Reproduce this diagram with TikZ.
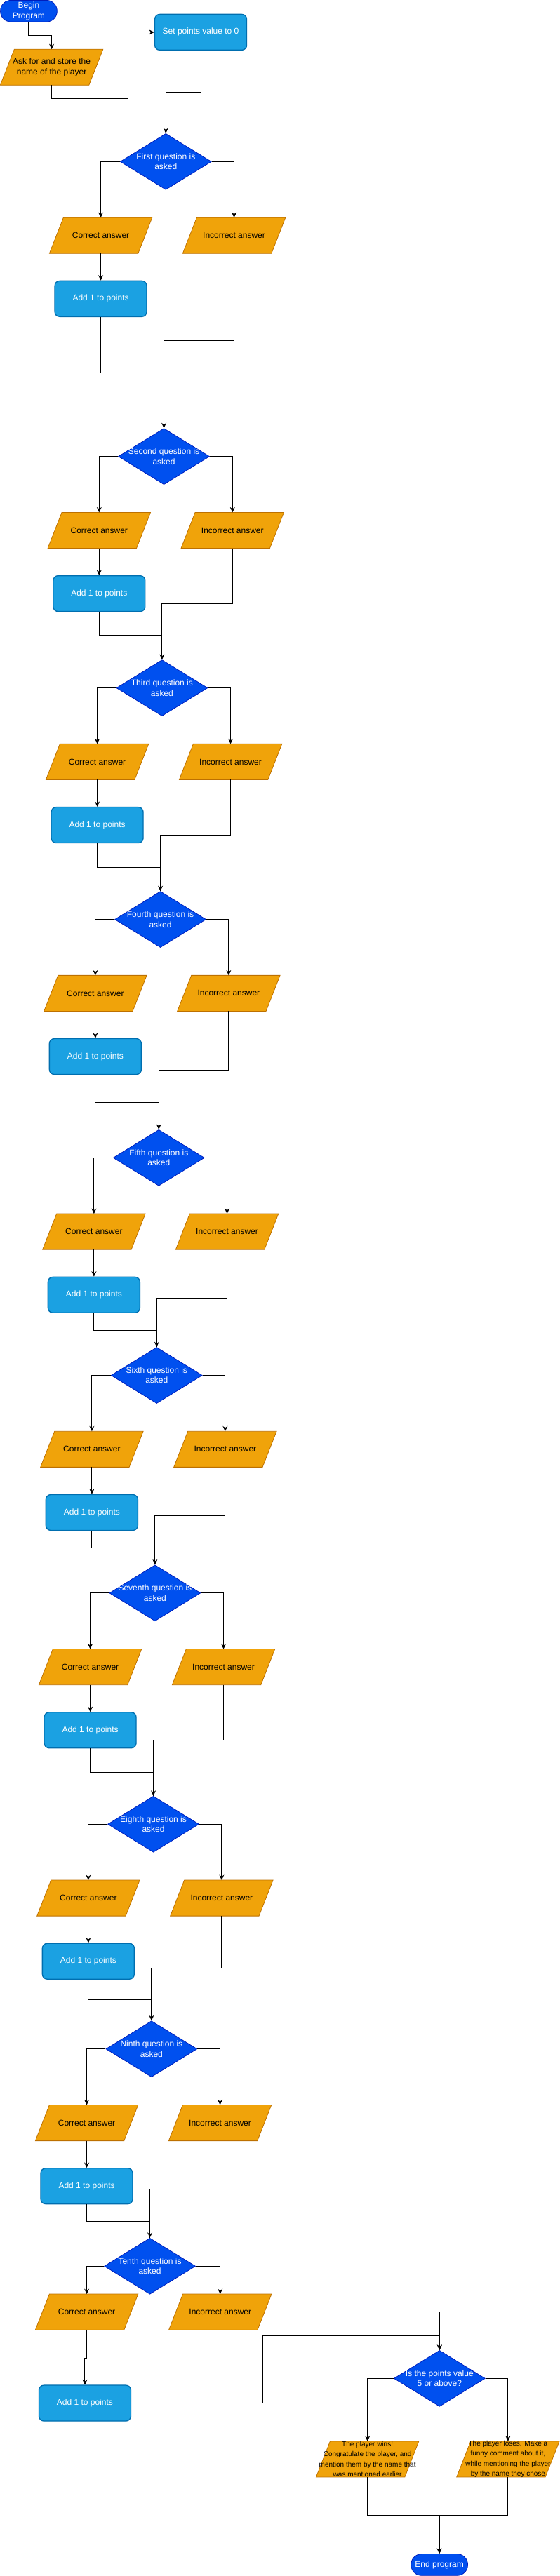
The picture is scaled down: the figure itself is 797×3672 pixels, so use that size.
\documentclass[tikz,border=0pt]{standalone}
\usepackage{fontspec}
\setmainfont{Liberation Sans}
\usetikzlibrary{shapes.geometric,arrows.meta}
\pgfdeclarelayer{back}
\pgfdeclarelayer{bg}
\pgfsetlayers{back,bg,main}
\definecolor{dblue}{HTML}{0050EF}
\definecolor{dbluel}{HTML}{001DBC}
\definecolor{pfill}{HTML}{1BA1E2}
\definecolor{pline}{HTML}{006EAF}
\definecolor{ofill}{HTML}{F0A30A}
\definecolor{oline}{HTML}{BD7000}
\tikzset{
 txt/.style={font=\fontsize{12}{14.4}\selectfont},
 term/.style={txt, rectangle, rounded corners=15, fill=dblue, draw=dbluel, line width=0.8pt, text=white, minimum width=80.7pt, minimum height=30.7pt, inner sep=0pt, align=center},
 proc/.style={txt, rectangle, rounded corners=7, fill=pfill, draw=pline, line width=1.3pt, text=white, minimum width=131pt, minimum height=51pt, inner sep=0pt, align=center},
 diam/.style={diamond, fill=dblue, draw=dbluel, line width=0.8pt, minimum width=130pt, minimum height=80pt, inner sep=0pt},
 dtext/.style={txt, text=white, align=center, inner sep=0pt},
 parabox/.style={txt, rectangle, minimum width=146pt, minimum height=50.7pt, inner sep=0pt, align=center, text=black},
 parashape/.style={fill=ofill, draw=oline, line width=0.8pt, line join=miter},
 line/.style={draw=black, line width=1pt},
 arr/.style={line, -{Stealth[length=7.5pt,width=7pt,inset=2.5pt]}},
 smalltext/.style={font=\fontsize{10}{14.4}\selectfont, align=center, text=black, inner sep=0pt}
}
\newcommand\paral[4]{%
  \node[parabox] (#1) at (#2,#3) {#4};
  \begin{pgfonlayer}{bg}
    \draw[parashape] ([xshift=20pt]#1.north west) -- (#1.north east) -- ([xshift=-20pt]#1.south east) -- (#1.south west) -- cycle;
  \end{pgfonlayer}}
\begin{document}
\begin{tikzpicture}[x=1pt,y=-1pt]
\begin{pgfonlayer}{back}
\path[use as bounding box, fill=white] (0,0) rectangle (797,3672);
\end{pgfonlayer}
% start
\node[term] (begin) at (40.35,15.35) {Begin\\Program};
\paral{ask}{73}{95.35}{Ask for and store the\\name of the player}
\node[proc] (set) at (285.5,45.5) {Set points value to 0};
% question levels 1-9
\foreach \n/\qx/\qy/\cx/\ix/\qw in {1/235.7/230/143/333/First,
  2/233/650.3/140.7/330.7/Second,
  3/230.3/980.3/138/328/Third,
  4/228/1310.3/135.3/325.3/Fourth,
  5/225.7/1650.1/133.3/323/Fifth,
  6/222.7/1960.3/130.3/320.3/Sixth,
  7/220.3/2270.6/128/318/Seventh,
  8/218/2600.1/125.3/315.3/Eighth,
  9/215.3/2920.6/123/313/Ninth}{
  \node[diam, label={[dtext]center:{\qw{} question is\\asked}}] (q\n) at (\qx,\qy) {};
  \paral{c\n}{\cx}{\qy+105.35}{Correct answer}
  \paral{i\n}{\ix}{\qy+105.35}{Incorrect answer}
  \node[proc] (a\n) at (\cx,\qy+195.5) {Add 1 to points};
}
% level 10
\node[diam, label={[dtext]center:{Tenth question is\\asked}}] (q10) at (213,3230.2) {};
\paral{c10}{123}{3295.55}{Correct answer}
\paral{i10}{313.2}{3295.55}{Incorrect answer}
\node[proc] (a10) at (120.4,3425.5) {Add 1 to points};
% final
\node[diam, label={[dtext]center:{Is the points value\\5 or above?}}] (f) at (625.8,3390.3) {};
\paral{win}{523.1}{3505.35}{}
\node[smalltext] (wintext) at (win.center) {The player wins!\\Congratulate the player, and\\mention them by the name that\\was mentioned earlier};
\paral{lose}{723.4}{3505.35}{}
\node[smalltext] (losetext) at (lose.center) {The player loses. Make a\\funny comment about it,\\while mentioning the player\\by the name they chose};
\node[term] (end) at (625.6,3655.9) {End program};
% connectors: start
\draw[arr] (begin.south) -- ++(0,19.3) -| (ask.north);
\draw[arr] (ask.south) -- ++(0,19.3) -| ([xshift=-37pt]set.west) -- (set.west);
\draw[arr] (set.south) -- ++(0,59) -| (q1.north);
% connectors: levels 1-9
\foreach \n/\ai/\ii in {1/300.3/255.3, 2/254.7/210, 3/255/210, 4/260/215,
  5/245.4/200.4, 6/245/200.2, 7/254.7/209.7, 8/249.8/204.8, 9/244.8/199.6}{
  \pgfmathtruncatemacro\m{\n+1}
  \draw[arr] (q\n.west) -| (c\n.north);
  \draw[arr] (q\n.east) -| (i\n.north);
  \draw[arr] (c\n.south) -- (a\n.north);
  \draw[line] (a\n.south) -- ++(0,\ai-221) -| (q\m.north);
  \draw[arr] (i\n.south) -- ++(0,\ii-130.7) -| (q\m.north);
}
% connectors: level 10 and end
\draw[arr] (q10.west) -| (c10.north);
\draw[arr] (q10.east) -| (i10.north);
\draw[arr] (c10.south) -- ++(0,40) -| (a10.north);
\draw[arr] ([xshift=-10pt]i10.east) -| (f.north);
\draw[arr] (a10.east) -- ++(187.1,0) |- ([yshift=20pt]f.north) -- (f.north);
\draw[arr] (f.west) -| (win.north);
\draw[arr] (f.east) -| (lose.north);
\draw[arr] (win.south) -- ++(0,54.6) -| (end.north);
\draw[arr] (lose.south) -- ++(0,54.6) -| (end.north);
\end{tikzpicture}
\end{document}
